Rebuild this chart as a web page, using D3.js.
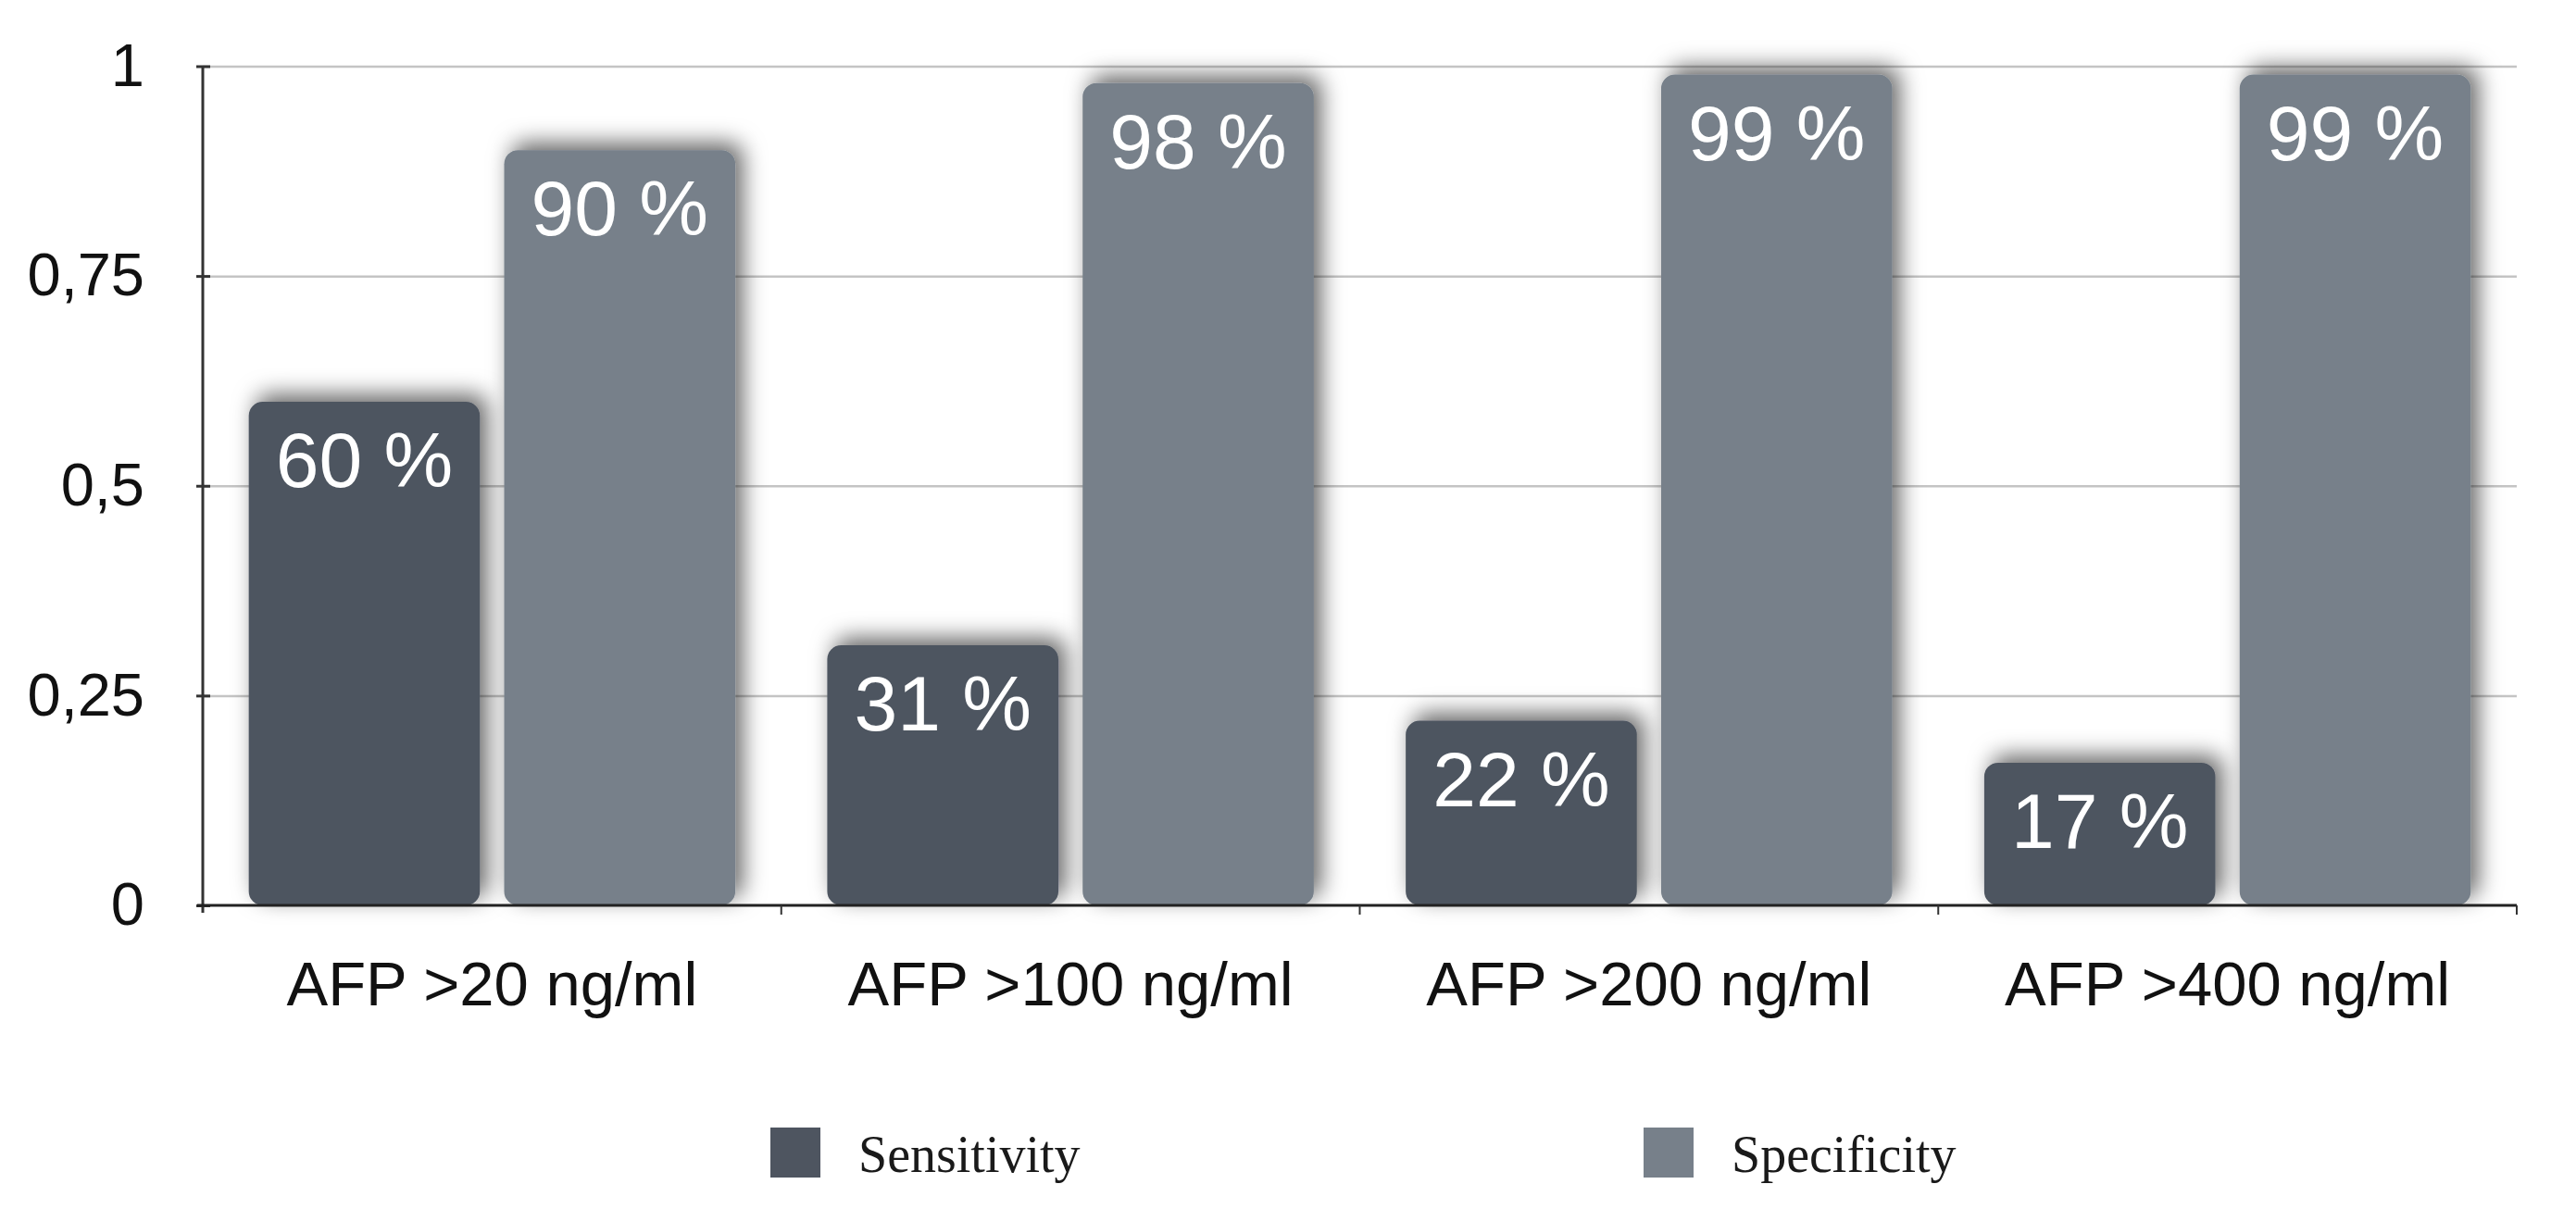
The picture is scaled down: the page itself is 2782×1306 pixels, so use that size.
<!DOCTYPE html>
<html>
<head>
<meta charset="utf-8">
<script src="https://cdn.jsdelivr.net/npm/d3@7"></script>
<style>
  html, body { margin: 0; padding: 0; background: #ffffff; }
  svg { display: block; }
</style>
</head>
<body>
<svg id="chart" width="2782" height="1306"></svg>
<script>
// ---- data ----
const categories = ["AFP >20 ng/ml", "AFP >100 ng/ml", "AFP >200 ng/ml", "AFP >400 ng/ml"];
const seriesNames = ["Sensitivity", "Specificity"];
const sensitivity = [0.60, 0.31, 0.22, 0.17];
const specificity = [0.90, 0.98, 0.99, 0.99];
const barLabels = [["60 %", "31 %", "22 %", "17 %"], ["90 %", "98 %", "99 %", "99 %"]];
const yTicks = [0, 0.25, 0.5, 0.75, 1];
const yTickLabels = ["0", "0,25", "0,5", "0,75", "1"];
const colors = ["#4e5560", "#77808a"];

const seriesValues = [sensitivity, specificity];

// ---- layout ----
const svg = d3.select("#chart");
const axisX = 219, rightX = 2718, y0px = 978, y1px = 71.5;

const x0 = d3.scaleBand().domain(categories).range([axisX, rightX]).paddingInner(0).paddingOuter(0);
const x1 = d3.scaleBand().domain(seriesNames).range([0, x0.bandwidth()]).paddingInner(0.095).paddingOuter(0.18);
const y = d3.scaleLinear().domain([0, 1]).range([y0px, y1px]);

// shadow filter
const defs = svg.append("defs");
const f = defs.append("filter").attr("id", "shadow")
  .attr("x", "-30%").attr("y", "-30%").attr("width", "160%").attr("height", "160%");
f.append("feDropShadow").attr("dx", 8).attr("dy", -8).attr("stdDeviation", 12)
  .attr("flood-color", "#000").attr("flood-opacity", 0.6);

// gridlines
const grid = svg.append("g").attr("transform", `translate(${axisX},0)`)
  .call(d3.axisRight(y).tickValues(yTicks.slice(1)).tickSize(rightX - axisX).tickFormat(""));
grid.select(".domain").remove();
grid.selectAll("line").attr("stroke", "#c4c4c4").attr("stroke-width", 2.5);

// bars
const rows = [];
categories.forEach((c, i) => {
  seriesNames.forEach((s, j) => {
    rows.push({cat: c, ser: s, v: seriesValues[j][i], label: barLabels[j][i], color: colors[j]});
  });
});

const barG = svg.append("g");
barG.selectAll("rect").data(rows).join("rect")
  .attr("x", d => x0(d.cat) + x1(d.ser))
  .attr("y", d => y(d.v))
  .attr("width", x1.bandwidth())
  .attr("height", d => y(0) - y(d.v))
  .attr("rx", 15).attr("ry", 15)
  .attr("fill", d => d.color)
  .attr("filter", "url(#shadow)");

barG.selectAll("text").data(rows).join("text")
  .attr("x", d => x0(d.cat) + x1(d.ser) + x1.bandwidth() / 2)
  .attr("y", d => y(d.v) + 92)
  .attr("text-anchor", "middle")
  .attr("font-family", "'Liberation Sans', Arial, Helvetica, sans-serif")
  .attr("font-size", 84)
  .attr("fill", "#ffffff")
  .text(d => d.label);

// y axis
const yAxis = svg.append("g").attr("transform", `translate(${axisX},0)`)
  .call(d3.axisLeft(y).tickValues(yTicks).tickSize(7).tickPadding(56)
    .tickFormat((d, i) => yTickLabels[i]));
yAxis.select(".domain").attr("stroke", "#333").attr("stroke-width", 3)
  .attr("d", `M0,${y1px}V${y0px + 8}`);
yAxis.selectAll(".tick line").attr("stroke", "#333").attr("stroke-width", 3);
yAxis.selectAll("text").attr("font-family", "'Liberation Sans', Arial, Helvetica, sans-serif")
  .attr("font-size", 65).attr("fill", "#111");
const yAxisR = svg.append("g").attr("transform", `translate(${axisX},0)`)
  .call(d3.axisRight(y).tickValues(yTicks).tickSize(8).tickFormat(""));
yAxisR.select(".domain").remove();
yAxisR.selectAll("line").attr("stroke", "#333").attr("stroke-width", 3);

// x axis
const xAxis = svg.append("g").attr("transform", `translate(0,${y0px})`)
  .call(d3.axisBottom(x0).tickSize(0).tickPadding(60));
xAxis.select(".domain").attr("stroke", "#222").attr("stroke-width", 3)
  .attr("d", `M${axisX - 6},0H${rightX}`);
xAxis.selectAll("text").attr("font-family", "'Liberation Sans', Arial, Helvetica, sans-serif")
  .attr("font-size", 67).attr("fill", "#111").attr("dy", "0.71em");
// boundary ticks
const bounds = categories.map(c => x0(c)).slice(1).concat([rightX]);
svg.append("g").selectAll("line").data(bounds).join("line")
  .attr("x1", d => d).attr("x2", d => d)
  .attr("y1", y0px).attr("y2", y0px + 10)
  .attr("stroke", "#333").attr("stroke-width", 2);

// legend
const legendX = [832, 1775];
const lg = svg.append("g").selectAll("g").data(seriesNames).join("g")
  .attr("transform", (d, i) => `translate(${legendX[i]},1218)`);
lg.append("rect").attr("width", 54).attr("height", 54).attr("fill", (d, i) => colors[i]);
lg.append("text").attr("x", 95).attr("y", 48)
  .attr("font-family", "'Liberation Serif', 'Times New Roman', serif")
  .attr("font-size", 56).attr("fill", "#1a1a1a")
  .text(d => d);
</script>
</body>
</html>
